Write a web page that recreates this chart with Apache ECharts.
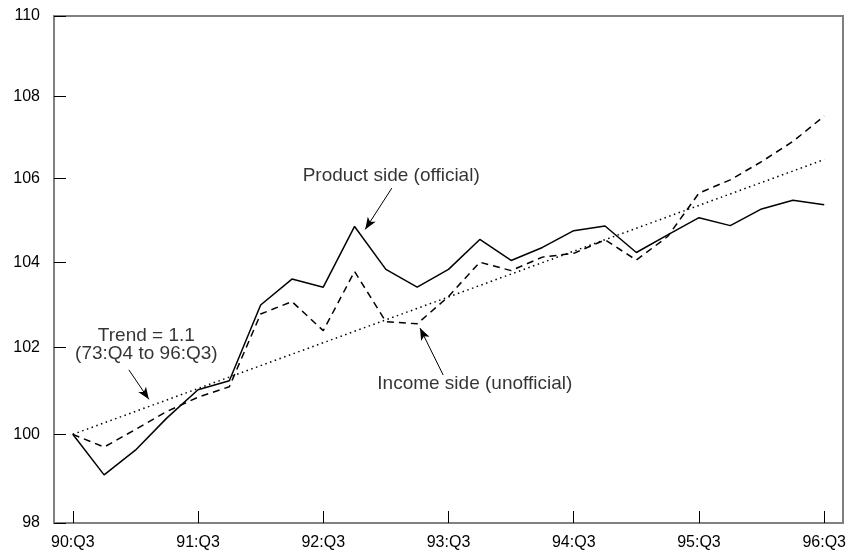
<!DOCTYPE html>
<html>
<head>
<meta charset="utf-8">
<script src="https://cdn.jsdelivr.net/npm/echarts@6/dist/echarts.min.js"></script>
<style>html,body{margin:0;padding:0;background:#fff}#c{width:849px;height:552px}</style>
</head>
<body>
<div id="c"></div>
<script>
// Quarters (x categories)
const quarters = ['90:Q3','90:Q4','91:Q1','91:Q2','91:Q3','91:Q4','92:Q1','92:Q2','92:Q3','92:Q4','93:Q1','93:Q2','93:Q3','93:Q4','94:Q1','94:Q2','94:Q3','94:Q4','95:Q1','95:Q2','95:Q3','95:Q4','96:Q1','96:Q2','96:Q3'];
// Tick labels on x axis
const xTickLabels = ['90:Q3','91:Q3','92:Q3','93:Q3','94:Q3','95:Q3','96:Q3'];
// y tick values
const yTicks = [98, 100, 102, 104, 106, 108, 110];
// Series values (index, 90:Q3 = 100)
const productSide = [100.0, 99.08, 99.64, 100.37, 101.02, 101.23, 102.99, 103.60, 103.41, 104.85, 103.83, 103.41, 103.83, 104.54, 104.04, 104.35, 104.75, 104.86, 104.23, 104.65, 105.06, 104.87, 105.27, 105.48, 105.37];
const incomeSide = [100.0, 99.71, 100.11, 100.52, 100.85, 101.09, 102.78, 103.07, 102.39, 103.78, 102.60, 102.55, 103.19, 104.00, 103.80, 104.12, 104.21, 104.53, 104.05, 104.61, 105.65, 105.97, 106.41, 106.90, 107.52];
// Trend line end points
const trendQuarters = ['90:Q3', '96:Q3'];
const trendValues = [100.0, 106.46];
// Annotation texts
const noteTexts = ['Product side (official)', 'Income side (unofficial)', 'Trend = 1.1\n(73:Q4 to 96:Q3)'];

const FONT = "'Liberation Sans', Arial, Helvetica, sans-serif";
const qi = q => quarters.indexOf(q);
const tickPos = xTickLabels.map(qi);

const chart = echarts.init(document.getElementById('c'), null, {renderer: 'canvas'});
const option = {
  animation: false,
  textStyle: {fontFamily: FONT},
  grid: {left: 54, right: 5, top: 16, bottom: 29, show: true, borderColor: '#808080', borderWidth: 2},
  xAxis: {
    type: 'value', min: -0.6, max: 24.6,
    axisLine: {onZero: false, lineStyle: {color: '#808080', width: 2}},
    axisTick: {inside: true, length: 12, customValues: tickPos, lineStyle: {color: '#000', width: 1}},
    axisLabel: {customValues: tickPos, formatter: v => quarters[Math.round(v)], color: '#000', fontSize: 16, fontFamily: FONT, margin: 12},
    splitLine: {show: false}
  },
  yAxis: {
    type: 'log', logBase: 10, min: 98, max: 110,
    axisLine: {show: true, onZero: false, lineStyle: {color: '#808080', width: 2}},
    axisTick: {show: true, inside: true, length: 12, customValues: yTicks, lineStyle: {color: '#000', width: 1}},
    axisLabel: {customValues: yTicks, color: '#000', fontSize: 16, fontFamily: FONT, margin: 14},
    splitLine: {show: false}
  },
  series: [
    {
      name: 'Product side (official)', type: 'line', symbol: 'none',
      data: productSide.map((v, i) => [i, v]),
      lineStyle: {color: '#000', width: 1.5, type: 'solid'},
      markLine: {
        silent: true, symbol: ['none', 'arrow'], symbolSize: [7, 12],
        lineStyle: {color: '#000', width: 1, type: 'solid'}, label: {show: false},
        data: [
          [{coord: [10.19, 105.77]}, {coord: [9.34, 104.78]}]
        ]
      }
    },
    {
      name: 'Income side (unofficial)', type: 'line', symbol: 'none',
      data: incomeSide.map((v, i) => [i, v]),
      lineStyle: {color: '#000', width: 1.5, type: [7, 5]},
      markLine: {
        silent: true, symbol: ['none', 'arrow'], symbolSize: [7, 12],
        lineStyle: {color: '#000', width: 1, type: 'solid'}, label: {show: false},
        data: [
          [{coord: [11.83, 101.36]}, {coord: [11.09, 102.45]}]
        ]
      }
    },
    {
      name: 'Trend', type: 'line', symbol: 'none',
      data: trendValues.map((v, i) => [qi(trendQuarters[i]), v]),
      lineStyle: {color: '#000', width: 1.5, type: [1.5, 3.5]},
      markLine: {
        silent: true, symbol: ['none', 'arrow'], symbolSize: [7, 12],
        lineStyle: {color: '#000', width: 1, type: 'solid'}, label: {show: false},
        data: [
          [{coord: [1.79, 101.48]}, {coord: [2.43, 100.80]}]
        ]
      }
    },
    {
      name: 'notes', type: 'scatter', symbolSize: 0, silent: true,
      data: [
        {name: noteTexts[0], value: [10.17, 106.06]},
        {name: noteTexts[1], value: [12.84, 101.15]},
        {name: noteTexts[2], value: [2.35, 102.05]}
      ],
      label: {show: true, position: 'inside', formatter: '{b}', color: '#000', fontSize: 19, lineHeight: 18, fontFamily: FONT, align: 'center'}
    }
  ]
};
chart.setOption(option);
</script>
</body>
</html>
